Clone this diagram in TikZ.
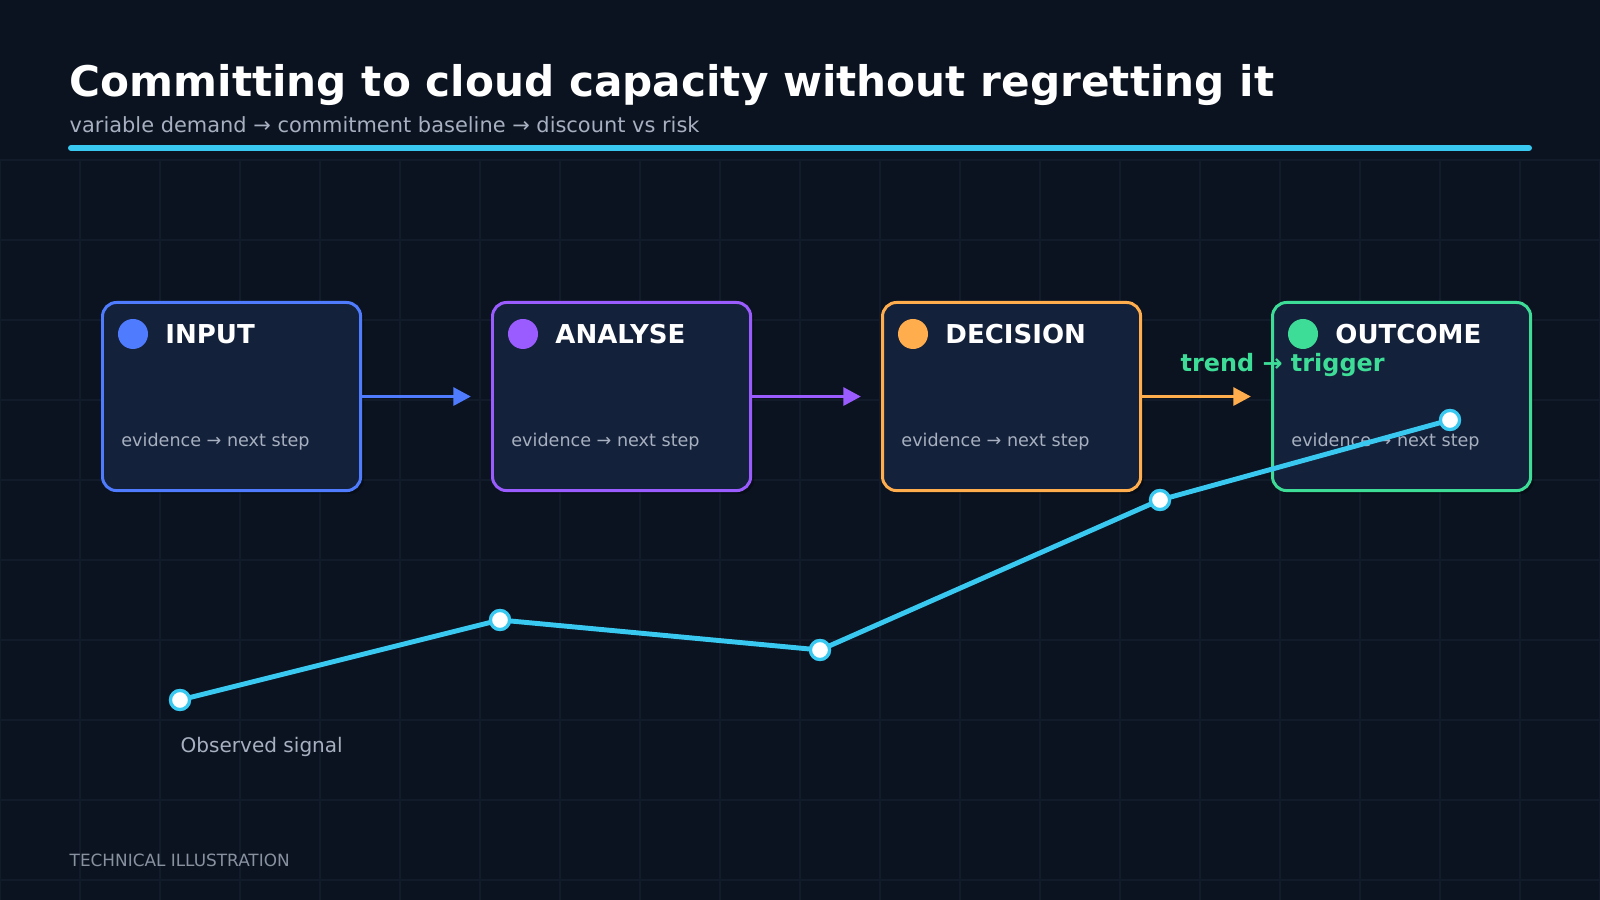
\documentclass[tikz,border=0pt]{standalone}
\usepackage{fontspec}
\setmainfont{DejaVu Sans}
\usetikzlibrary{arrows.meta}
\definecolor{bg}{HTML}{0B1320}
\definecolor{boxbg}{HTML}{14213A}
\definecolor{cyan}{HTML}{38C8F0}
\definecolor{cblue}{HTML}{4F7CFF}
\definecolor{cpurple}{HTML}{9B5CFF}
\definecolor{corange}{HTML}{FFAD4D}
\definecolor{cgreen}{HTML}{3DDC97}
\definecolor{txtgrey}{HTML}{A7B0C0}
\definecolor{gridc}{HTML}{111B29}
\tikzset{
 box/.style={draw=#1, line width=0.85pt, fill=boxbg, rounded corners=4pt, minimum width=2.58cm, minimum height=1.88cm, anchor=north west, inner sep=0},
 dot/.style={circle, fill=#1, minimum size=0.30cm, inner sep=0},
 lbl/.style={anchor=west, text=white, font=\fontsize{7.4}{8}\selectfont\bfseries},
 ev/.style={anchor=west, text=txtgrey, font=\fontsize{5}{6}\selectfont},
 arr/.style={draw=#1, line width=1.1pt, -{Triangle[length=5pt,width=5pt]}},
 pt/.style={circle, draw=cyan, fill=white, line width=0.9pt, minimum size=0.19cm, inner sep=0},
}
\begin{document}
\begin{tikzpicture}[x=0.01cm,y=0.01cm]
\fill[bg] (0,0) rectangle (1600,900);
\useasboundingbox (0,0) rectangle (1600,900);
\foreach \x in {0,80,...,1600} \draw[gridc, line width=0.4pt] (\x,0) -- (\x,740);
\foreach \y in {20,100,...,740} \draw[gridc, line width=0.4pt] (0,\y) -- (1600,\y);
\node[anchor=base west, text=white, font=\fontsize{12}{14}\selectfont\bfseries, inner sep=0] (title) at (69,803) {Committing to cloud capacity without regretting it};
\node[anchor=base west, text=txtgrey, font=\fontsize{5.95}{7}\selectfont, inner sep=0] (sub) at (69,767) {variable demand → commitment baseline → discount vs risk};
\coordinate (la) at (71,752); \coordinate (lb) at (1529,752);
\draw[cyan, line width=1.7pt, line cap=round] (la) -- (lb);
% boxes
\foreach \n/\x/\c/\t in {b1/101/cblue/INPUT, b2/491/cpurple/ANALYSE, b3/881/corange/DECISION, b4/1271/cgreen/OUTCOME}{
 \fill[black, opacity=0.25, rounded corners=4pt] (\x+5,900-301-5) rectangle ++(258,-188);
 \node[box=\c] (\n) at (\x,599) {};
 \node[dot=\c] (\n d) at (\x+32,566) {};
 \node[lbl] (\n l) at (\x+52,566) {\t};
 \node[ev] (\n e) at (\x+8,458) {evidence → next step};
}
\coordinate (e1) at (471,505); \coordinate (e2) at (861,505); \coordinate (e3) at (1251,505);
\draw[arr=cblue] (b1.east) -- (b1.east -| e1);
\draw[arr=cpurple] (b2.east) -- (b2.east -| e2);
\draw[arr=corange] (b3.east) -- (b3.east -| e3);
\node[anchor=west, text=cgreen, font=\fontsize{6.8}{8}\selectfont\bfseries, inner sep=0] (trend) at (1180,535) {trend → trigger};
% chart
\node[pt] (p1) at (180,200) {};
\node[pt] (p2) at (500,280) {};
\node[pt] (p3) at (820,250) {};
\node[pt] (p4) at (1160,400) {};
\node[pt] (p5) at (1450,480) {};
\draw[cyan, line width=1.4pt, line join=round] (p1.center) -- (p2.center) -- (p3.center) -- (p4.center) -- (p5.center);
\foreach \p in {p1,p2,p3,p4,p5} \node[pt] at (\p) {};
\node[anchor=west, text=txtgrey, font=\fontsize{5.7}{7}\selectfont, inner sep=0] (obs) at (180,153) {Observed signal};
\node[anchor=west, text=txtgrey!80!bg, font=\fontsize{4.8}{6}\selectfont, inner sep=0] (foot) at (69,40) {TECHNICAL ILLUSTRATION};
\end{tikzpicture}
\end{document}
